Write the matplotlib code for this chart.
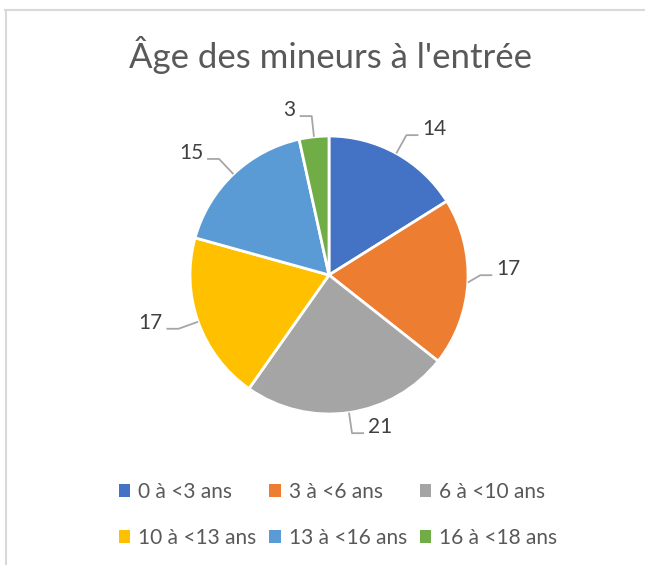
import numpy as np
import matplotlib.pyplot as plt
from matplotlib.lines import Line2D
from matplotlib.patches import Patch

# données
categories = ["0 à <3 ans", "3 à <6 ans", "6 à <10 ans",
              "10 à <13 ans", "13 à <16 ans", "16 à <18 ans"]
values = [14, 17, 21, 17, 15, 3]
colors = ["#4472C4", "#ED7D31", "#A5A5A5", "#FFC000", "#5B9BD5", "#70AD47"]
title = "Âge des mineurs à l'entrée"

plt.rcParams['font.family'] = ['Lato', 'DejaVu Sans']

W, H = 645, 565
fig = plt.figure(figsize=(W / 100, H / 100), dpi=100)
ax = fig.add_axes([0, 0, 1, 1])
ax.set_xlim(0, W)
ax.set_ylim(0, H)
ax.set_aspect('equal')
ax.axis('off')

cx, cy, r = 329, H - 275, 139
wedges, _ = ax.pie(values, colors=colors, startangle=90, counterclock=False,
                   center=(cx, cy), radius=r,
                   wedgeprops=dict(edgecolor='white', linewidth=2))
ax.set_xlim(0, W)
ax.set_ylim(0, H)

# étiquettes de données avec lignes de repère
for w, v in zip(wedges, values):
    ang = np.deg2rad((w.theta1 + w.theta2) / 2)
    ca, sa = np.cos(ang), np.sin(ang)
    p0 = (cx + r * ca, cy + r * sa)
    k = 1.15 if abs(sa) > 0.3 else 1.09
    p1 = (cx + r * k * ca, cy + r * k * sa + (8 if abs(sa) < 0.3 else 0))
    sgn = 1 if ca >= 0 else -1
    p2 = (p1[0] + sgn * 12, p1[1])
    ax.plot([p0[0], p1[0], p2[0]], [p0[1], p1[1], p2[1]],
            color='#A6A6A6', lw=1.3, solid_capstyle='butt')
    ax.text(p2[0] + sgn * 4, p2[1] + 6, str(v), fontsize=15, color='#404040',
            ha='left' if sgn > 0 else 'right', va='center')

ax.text(W / 2 + 8, H - 55, title, fontsize=25, color='#595959',
        ha='center', va='center')

handles = [Patch(facecolor=c, edgecolor='none') for c in colors]
order = [0, 3, 1, 4, 2, 5]
fig.legend([handles[i] for i in order], [categories[i] for i in order],
           ncol=3, loc='center', bbox_to_anchor=(338 / W, 1 - 515 / H),
           frameon=False, fontsize=15, labelcolor='#595959',
           handlelength=0.55, handleheight=0.55, handletextpad=0.4,
           columnspacing=0.6, labelspacing=1.25)

# bordure de la zone de graphique (partiellement visible)
fig.add_artist(Line2D([5 / W, 1], [1 - 10 / H, 1 - 10 / H],
                      color='#D9D9D9', lw=1.5, transform=fig.transFigure))
fig.add_artist(Line2D([6 / W, 6 / W], [0, 1 - 10 / H],
                      color='#D9D9D9', lw=1.5, transform=fig.transFigure))

fig.savefig('out.png', dpi=100, facecolor='white')
